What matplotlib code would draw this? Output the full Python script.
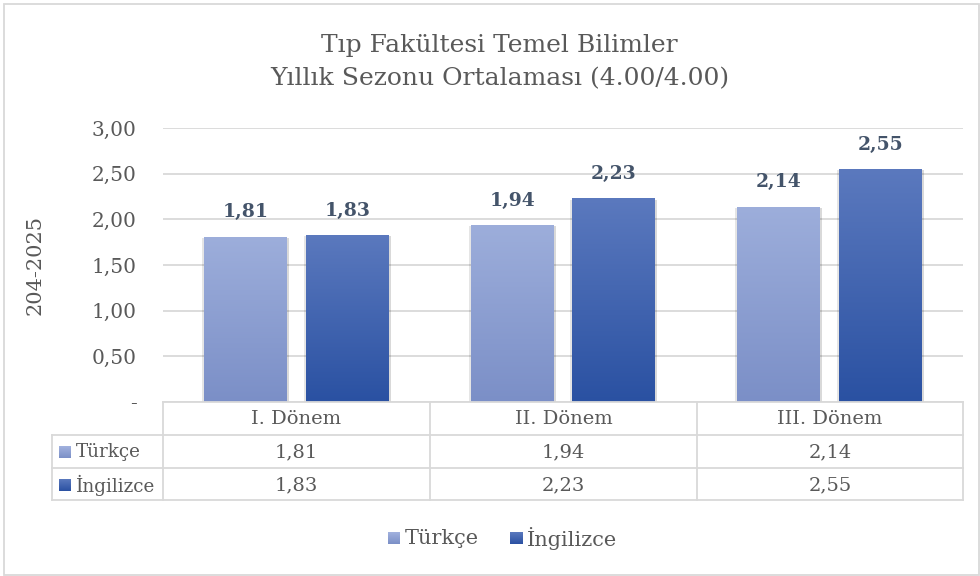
import numpy as np
import matplotlib
matplotlib.use("Agg")
import matplotlib.pyplot as plt
from matplotlib.patches import Rectangle
from matplotlib.colors import LinearSegmentedColormap
import matplotlib.patheffects as pe

categories = ["I. Dönem", "II. Dönem", "III. Dönem"]
series_names = ["Türkçe", "İngilizce"]
turkce = [1.81, 1.94, 2.14]
ingilizce = [1.83, 2.23, 2.55]
yticks = [0.0, 0.5, 1.0, 1.5, 2.0, 2.5, 3.0]
ytick_labels = ["-", "0,50", "1,00", "1,50", "2,00", "2,50", "3,00"]
title = "Tıp Fakültesi Temel Bilimler\nYıllık Sezonu Ortalaması (4.00/4.00)"
ylabel = "204-2025"

def fmt(v):
    return f"{v:.2f}".replace(".", ",")

TXT = "#595959"
GRID = "#D9D9D9"
LBL = "#44546A"
FONT = "DejaVu Serif"
plt.rcParams["font.family"] = FONT

W, H = 980, 576
fig = plt.figure(figsize=(W / 100, H / 100), dpi=100)

def fx(px):
    return px / W

def fy(py):
    return 1 - py / H

# chart border
fig.patches.append(Rectangle((fx(4), fy(575)), fx(975), 571 / H, transform=fig.transFigure,
                             fill=False, edgecolor=GRID, lw=1.3))

# axes
L, R, T, B = 163, 963, 128, 402
ax = fig.add_axes([fx(L), fy(B), fx(R - L), (B - T) / H])
for s in ax.spines.values():
    s.set_visible(False)
ax.set_yticks(yticks)
ax.set_yticklabels(ytick_labels, fontsize=14.5, color=TXT)
ax.tick_params(axis="y", length=0, pad=19)
ax.set_xticks([])
ax.yaxis.grid(True, color=GRID, lw=1.3)
ax.set_axisbelow(True)

fig.text(fx(35), fy(265), ylabel, rotation=90, ha="center", va="center", fontsize=15, color=TXT)

cmap_light = LinearSegmentedColormap.from_list("l", ["#7B8FC7", "#9DAEDB"])
cmap_dark = LinearSegmentedColormap.from_list("d", ["#2A51A2", "#5B79BE"])

x = np.arange(len(categories))
bw = 0.311
off = 0.191
grad = np.linspace(0, 1, 256).reshape(-1, 1)
for vals, dx, cmap in [(turkce, -off, cmap_light), (ingilizce, off, cmap_dark)]:
    bars = ax.bar(x + dx, vals, width=bw, color="none", edgecolor="none", zorder=2)
    for b, v in zip(bars, vals):
        x0, w, h = b.get_x(), b.get_width(), b.get_height()
        shadow = Rectangle((x0, 0), w, h, facecolor="white", edgecolor="none", zorder=2,
                           path_effects=[pe.SimplePatchShadow(offset=(1.5, -1), shadow_rgbFace="#000000", alpha=0.15),
                                         pe.SimplePatchShadow(offset=(-1.5, -1), shadow_rgbFace="#000000", alpha=0.1),
                                         pe.Normal()])
        ax.add_patch(shadow)
        im = ax.imshow(grad, extent=[x0, x0 + w, 0, h], origin="lower", cmap=cmap,
                       aspect="auto", zorder=3, interpolation="bilinear")
        im.set_clip_path(b)
        ax.annotate(fmt(v), (x0 + w / 2, h), xytext=(0, 11), textcoords="offset points",
                    ha="center", va="bottom", fontsize=13.5, fontweight="bold", color=LBL)
ax.set_xlim(-0.5, 2.5)
ax.set_ylim(0, 3.0)

fig.text(0.51, fy(62), title, ha="center", va="center", fontsize=18, color=TXT,
         linespacing=1.55)

# data table
row_y = [402, 435, 468, 500]
col_x = [52, 163, 430, 697, 963]
lw = 1.3
fig.add_artist(plt.Line2D([fx(163), fx(963)], [fy(402), fy(402)], color=GRID, lw=lw))
for yy in row_y[1:]:
    fig.add_artist(plt.Line2D([fx(52), fx(963)], [fy(yy), fy(yy)], color=GRID, lw=lw))
fig.add_artist(plt.Line2D([fx(52), fx(52)], [fy(435), fy(500)], color=GRID, lw=lw))
for xx in col_x[1:]:
    fig.add_artist(plt.Line2D([fx(xx), fx(xx)], [fy(402), fy(500)], color=GRID, lw=lw))

for i, c in enumerate(categories):
    cx = (col_x[i + 1] + col_x[i + 2]) / 2
    fig.text(fx(cx), fy(419), c, ha="center", va="center", fontsize=14, color=TXT)
    for r, vals in enumerate([turkce, ingilizce]):
        fig.text(fx(cx), fy(452 + 33 * r), fmt(vals[i]), ha="center", va="center", fontsize=14, color=TXT)

sq_colors = [("#7B8FC7", "#A2B2DE"), ("#2A51A2", "#5B79BE")]
def square(xp, yp, cols, size=12):
    axs = fig.add_axes([fx(xp), fy(yp + size / 2), fx(size), size / H])
    axs.imshow(grad, cmap=LinearSegmentedColormap.from_list("s", list(cols)), origin="lower",
               aspect="auto", extent=[0, 1, 0, 1])
    axs.axis("off")

for r, name in enumerate(series_names):
    yy = 452 + 33 * r
    square(59, yy, sq_colors[r])
    fig.text(fx(76), fy(yy), name, ha="left", va="center", fontsize=13.2, color=TXT)

# legend
leg_items = [(388, 405), (510, 527)]
for (sx, tx), name, cols in zip(leg_items, series_names, sq_colors):
    square(sx, 538, cols)
    fig.text(fx(tx), fy(538), name, ha="left", va="center", fontsize=15, color=TXT)

fig.savefig("out.png", dpi=100)
